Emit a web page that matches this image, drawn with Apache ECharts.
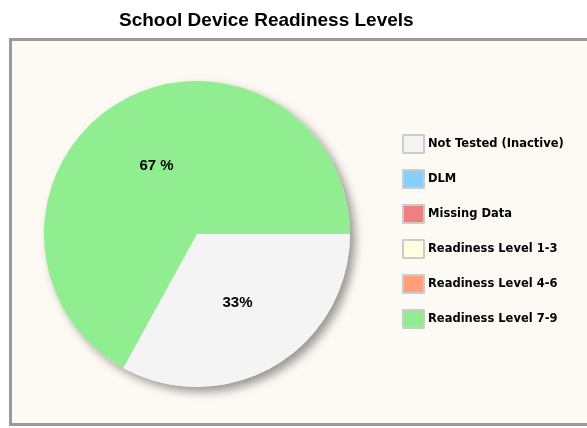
<!DOCTYPE html>
<html><head><meta charset="utf-8">
<script src="https://cdn.jsdelivr.net/npm/echarts@6/dist/echarts.min.js"></script>
<style>html,body{margin:0;padding:0;background:#fff}#c{width:587px;height:428px}</style>
</head><body><div id="c"></div>
<script>
const categories = ['Not Tested (Inactive)', 'DLM', 'Missing Data', 'Readiness Level 1-3', 'Readiness Level 4-6', 'Readiness Level 7-9'];
const values = [33, 0, 0, 0, 0, 67];
const sliceLabels = ['33%', '', '', '', '', '67 %'];
const colors = ['#F4F4F4', '#87CEFA', '#F08080', '#FFFFE0', '#FFA07A', '#90EE90'];

const chart = echarts.init(document.getElementById('c'), null, {renderer: 'canvas'});
chart.setOption({
  animation: false,
  backgroundColor: '#ffffff',
  title: {
    text: 'School Device Readiness Levels',
    left: 114, top: 6,
    textStyle: {fontFamily: 'Liberation Sans, Arial, sans-serif', fontSize: 19, fontWeight: 'bold', color: '#000'}
  },
  graphic: [{
    type: 'rect', z: -10, silent: true,
    shape: {x: 10.5, y: 39.5, width: 620, height: 385},
    style: {fill: '#FDFAF3', stroke: '#9a9a9a', lineWidth: 3}
  }],
  legend: {
    orient: 'vertical', left: 397, top: 129,
    data: categories,
    icon: 'rect', itemWidth: 21, itemHeight: 18, itemGap: 15,
    itemStyle: {borderColor: '#cccccc', borderWidth: 2},
    textStyle: {fontFamily: 'DejaVu Sans, sans-serif', fontSize: 11.5, fontWeight: 'bold', color: '#000', padding: [0,0,0,-1]},
    selectedMode: false
  },
  color: colors,
  series: [{
    type: 'pie', silent: true, center: [197, 234], radius: 153, z: 1,
    label: {show: false}, labelLine: {show: false},
    itemStyle: {color: '#f4f4f4', shadowBlur: 10, shadowOffsetX: 5, shadowOffsetY: 5, shadowColor: 'rgba(0,0,0,0.4)'},
    data: [{name: '__bg', value: 1}],
    tooltip: {show: false}
  }, {
    type: 'pie', center: [197, 234], radius: 153, z: 2,
    startAngle: 0, clockwise: true, minAngle: 0,
    stillShowZeroSum: false,
    label: {
      show: true, position: 'inside',
      fontFamily: 'Liberation Sans, Arial, sans-serif', fontSize: 15, fontWeight: 'bold', color: '#000',
      formatter: p => sliceLabels[p.dataIndex]
    },
    labelLine: {show: false},
    emphasis: {disabled: true},
    data: categories.map((n, i) => ({name: n, value: values[i], itemStyle: {color: colors[i]}}))
  }]
});
</script></body></html>
